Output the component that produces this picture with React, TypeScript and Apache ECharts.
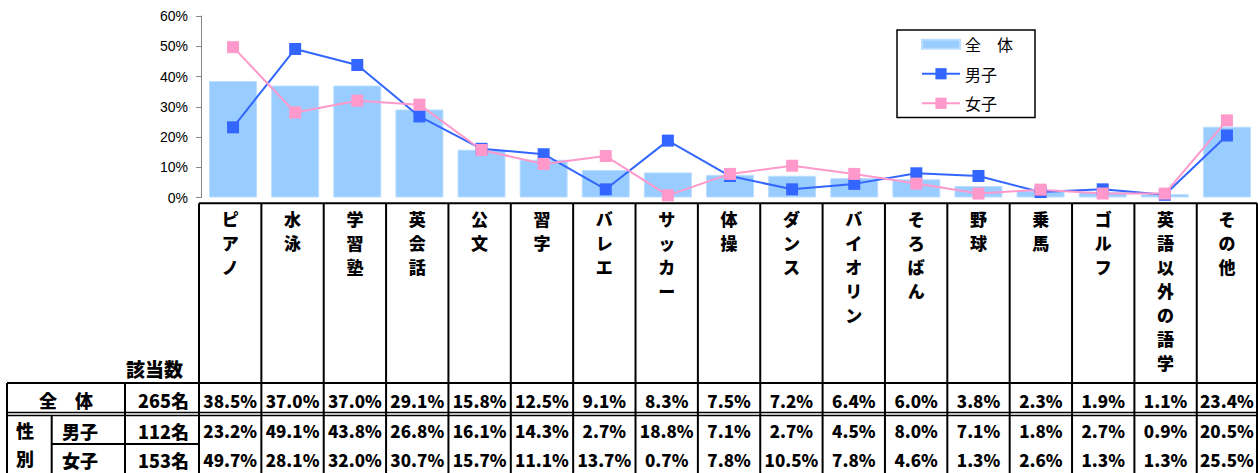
import React, { useEffect, useRef } from "react";
import * as echarts from "echarts";

const categories = [
  "ピアノ", "水泳", "学習塾", "英会話", "公文", "習字", "バレエ", "サッカー", "体操",
  "ダンス", "バイオリン", "そろばん", "野球", "乗馬", "ゴルフ", "英語以外の語学", "その他",
];
const totalPct = [38.5, 37.0, 37.0, 29.1, 15.8, 12.5, 9.1, 8.3, 7.5, 7.2, 6.4, 6.0, 3.8, 2.3, 1.9, 1.1, 23.4];
const malePct = [23.2, 49.1, 43.8, 26.8, 16.1, 14.3, 2.7, 18.8, 7.1, 2.7, 4.5, 8.0, 7.1, 1.8, 2.7, 0.9, 20.5];
const femalePct = [49.7, 28.1, 32.0, 30.7, 15.7, 11.1, 13.7, 0.7, 7.8, 10.5, 7.8, 4.6, 1.3, 2.6, 1.3, 1.3, 25.5];
const seriesNames = ["全　体", "男子", "女子"];
const rowCounts = [265, 112, 153];
const yTicks = { min: 0, max: 60, interval: 10 };

const W = 1258;
const H = 473;
const JP = '"Noto Sans CJK JP", "Noto Sans CJK SC", sans-serif';

function buildTable() {
  const els: any[] = [];
  const colX0 = 199;
  const colW = 62.36;
  const xRight = 1257;
  const headTop = 203.3;
  const rowTop = 383;
  const dbl1 = 412.5;
  const dbl2 = 415.5;
  const mfLine = 444;
  const n = categories.length;
  const line = (x1: number, y1: number, x2: number, y2: number, w = 2) => ({
    type: "line",
    silent: true,
    shape: { x1, y1, x2, y2 },
    style: { stroke: "#000", lineWidth: w },
  });
  const text = (t: string, x: number, y: number, align: string, size = 17, extra: any = {}) => ({
    type: "text",
    silent: true,
    x,
    y,
    style: {
      text: t,
      fill: "#000",
      fontSize: size,
      fontWeight: 900,
      fontFamily: JP,
      align,
      verticalAlign: "middle",
      ...extra,
    },
  });
  els.push(line(colX0, headTop, xRight, headTop));
  for (let k = 0; k < n; k++) {
    const x = colX0 + k * colW;
    els.push(line(x, headTop, x, H));
  }
  els.push(line(xRight, headTop, xRight, H));
  els.push(line(7, rowTop, xRight, rowTop));
  els.push(line(7, dbl1, xRight, dbl1, 1.5));
  els.push(line(7, dbl2, xRight, dbl2, 1.5));
  els.push(line(7, rowTop, 7, H));
  els.push(line(125, rowTop, 125, H));
  els.push(line(51.7, dbl2, 51.7, H));
  els.push(line(51.7, mfLine, colX0, mfLine));
  categories.forEach((c, k) => {
    const cx = colX0 + (k + 0.5) * colW - (k === n - 1 ? 1 : 0);
    els.push(
      text(c.split("").join("\n"), cx, 206, "center", 17, { verticalAlign: "top", lineHeight: 24 })
    );
  });
  const rowsY = [400, 430.5, 459.5];
  [totalPct, malePct, femalePct].forEach((arr, r) => {
    arr.forEach((v, k) => {
      const cx = k === n - 1 ? (colX0 + k * colW + xRight) / 2 : colX0 + (k + 0.5) * colW;
      els.push(text(v.toFixed(1) + "%", cx, rowsY[r], "center", 17));
    });
  });
  els.push(text("該当数", 183, 368, "right", 19));
  els.push(text(seriesNames[0], 66, rowsY[0], "center", 18));
  els.push(text("性", 25, 430, "center", 18));
  els.push(text("別", 25, 458, "center", 18));
  els.push(text(seriesNames[1], 80, rowsY[1], "center", 18));
  els.push(text(seriesNames[2], 80, rowsY[2], "center", 18));
  rowCounts.forEach((c, r) => {
    els.push(text(c + "名", 189, rowsY[r], "right", 18));
  });
  return els;
}

export default function App() {
  const ref = useRef<HTMLDivElement>(null);
  useEffect(() => {
    if (!ref.current) return;
    const chart = echarts.init(ref.current, null, { renderer: "svg" });
    chart.setOption({
      animation: false,
      backgroundColor: "#fff",
      grid: { left: 202, right: -6, top: 16, bottom: H - 197.5, containLabel: false },
      legend: {
        orient: "vertical",
        left: 897,
        top: 30,
        padding: [5, 22, 5, 24],
        itemGap: 11,
        itemWidth: 38,
        itemHeight: 14,
        symbolKeepAspect: true,
        borderColor: "#000",
        borderWidth: 1.5,
        textStyle: { fontSize: 16, lineHeight: 18.5, color: "#000", fontFamily: JP },
        data: [
          { name: seriesNames[0], icon: "path://M0,0H38V9H0Z" },
          seriesNames[1],
          seriesNames[2],
        ],
      },
      xAxis: {
        type: "category",
        data: categories,
        axisLine: { show: false },
        axisTick: { show: false },
        axisLabel: { show: false },
        splitLine: { show: false },
      },
      yAxis: {
        type: "value",
        min: yTicks.min,
        max: yTicks.max,
        interval: yTicks.interval,
        offset: 1,
        axisLine: { show: true, lineStyle: { color: "#868686", width: 1 } },
        axisTick: { show: true, length: 5, lineStyle: { color: "#868686" } },
        splitLine: { show: false },
        axisLabel: {
          formatter: "{value}%",
          fontSize: 14,
          color: "#000",
          fontFamily: '"Liberation Sans", Arial, sans-serif',
          margin: 13,
        },
      },
      series: [
        {
          name: seriesNames[0],
          type: "bar",
          data: totalPct,
          barWidth: 48,
          itemStyle: { color: "#99CCFF", borderColor: "#BBDDFF", borderWidth: 1 },
        },
        {
          name: seriesNames[1],
          type: "line",
          data: malePct,
          symbol: "rect",
          symbolSize: 12,
          itemStyle: { color: "#3366FF" },
          lineStyle: { color: "#3366FF", width: 2 },
        },
        {
          name: seriesNames[2],
          type: "line",
          data: femalePct,
          symbol: "rect",
          symbolSize: 12,
          itemStyle: { color: "#FF99CC" },
          lineStyle: { color: "#FF99CC", width: 2 },
        },
      ],
      graphic: buildTable(),
    });
    return () => chart.dispose();
  }, []);
  return (
    <div
      ref={ref}
      style={{ position: "absolute", left: 0, top: 0, width: W, height: H }}
    />
  );
}
